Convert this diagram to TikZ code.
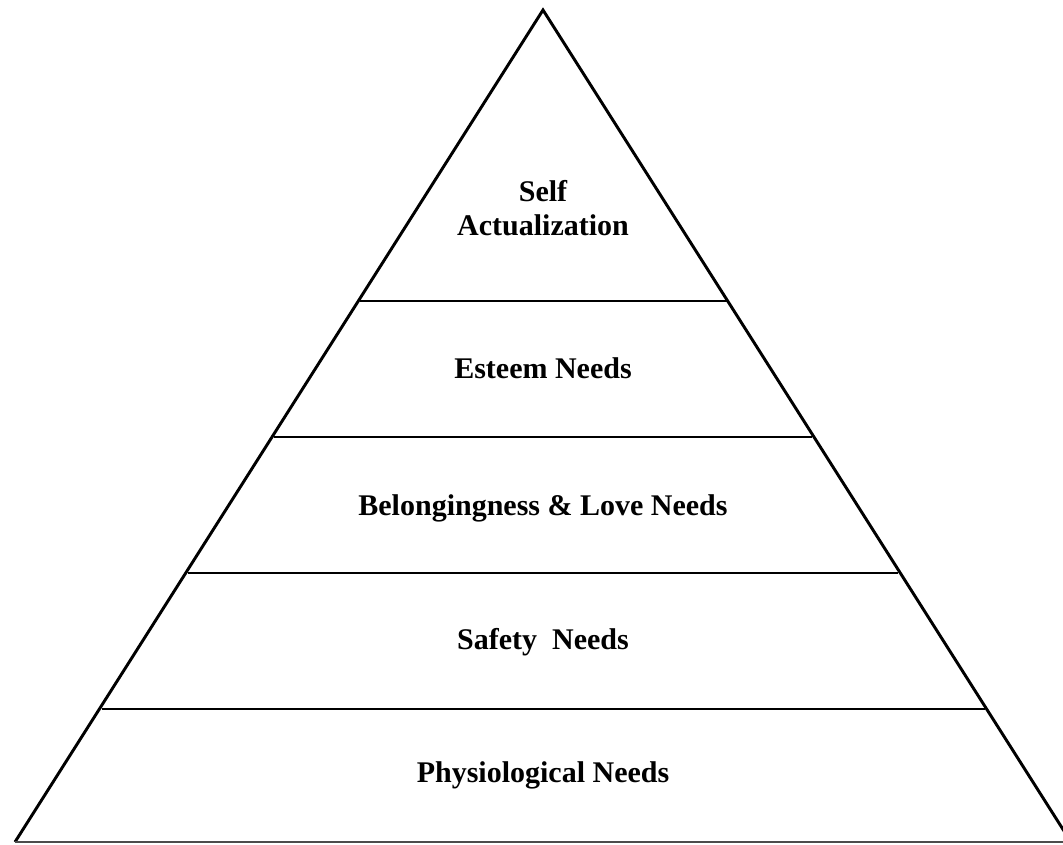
\documentclass[tikz,border=0pt]{standalone}
\usepackage{fontspec}
\setmainfont{Liberation Serif}
\begin{document}
\begin{tikzpicture}[x=0.75pt,y=-0.75pt,
  edge/.style={line width=2.2pt,line join=miter},
  tier/.style={line width=1.4pt},
  lbl/.style={font=\fontsize{22.5}{26}\selectfont\bfseries,align=center,inner sep=0pt}]
\useasboundingbox (0,0) rectangle (1063,845);
\clip (0,0) rectangle (1063,845);
\coordinate (apex) at (543,10);
\coordinate (bl) at (15,842);
\coordinate (br) at (1071,842);
\draw[edge] (bl) -- (apex) -- (br);
\draw[line width=2pt,black!70] (bl) -- (br);
\coordinate (l1) at (360,301); \coordinate (r1) at (727,301);
\coordinate (l2) at (274,437); \coordinate (r2) at (812,437);
\coordinate (l3) at (188,573); \coordinate (r3) at (898,573);
\coordinate (l4) at (102,709); \coordinate (r4) at (985,709);
\draw[tier] (l1) -- (r1);
\draw[tier] (l2) -- (r2);
\draw[tier] (l3) -- (r3);
\draw[tier] (l4) -- (r4);
\node[lbl] (self) at (543,208) {Self\\Actualization};
\node[lbl] (esteem) at (543,368) {Esteem Needs};
\node[lbl] (belong) at (543,508) {Belongingness \& Love Needs};
\node[lbl] (safety) at (543,642) {Safety\ \ Needs};
\node[lbl] (phys) at (543,775) {Physiological Needs};
\end{tikzpicture}
\end{document}
